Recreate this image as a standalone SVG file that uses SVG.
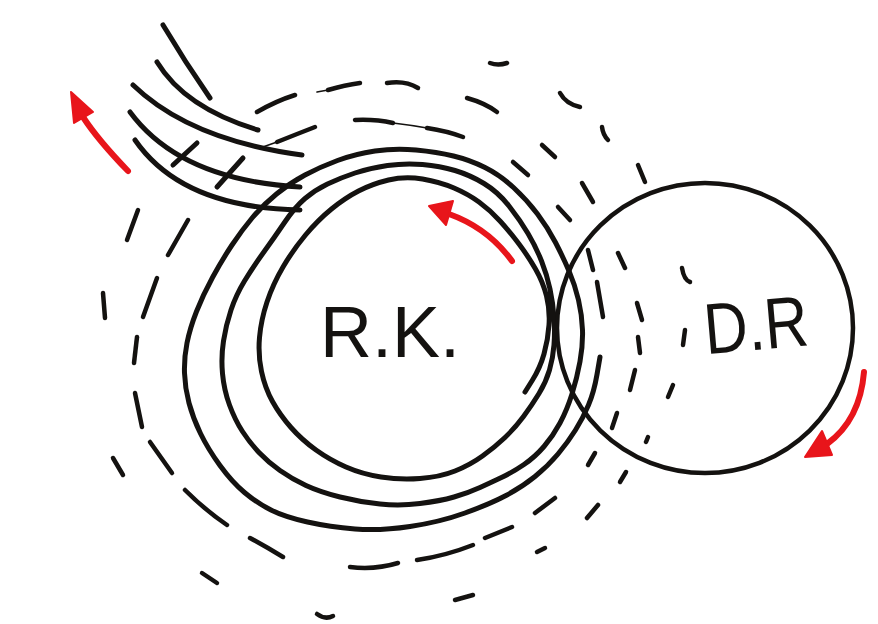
<svg xmlns="http://www.w3.org/2000/svg" width="878" height="624" viewBox="0 0 878 624">
<style>
.ink{fill:none;stroke:#141210;stroke-linecap:round;stroke-linejoin:round}
.ring{stroke-width:5}
.dash{stroke-width:4.5}
.thin{stroke-width:1.6}
.red{fill:none;stroke:#e8151b;stroke-width:6;stroke-linecap:round}
.redhead{fill:#e8151b;stroke:#e8151b;stroke-width:2;stroke-linejoin:round}
.lbl{font-family:"Liberation Sans",Arial,sans-serif;font-size:72px;fill:#141210}
</style>
<rect width="878" height="624" fill="#ffffff"/>

<g id="dashed-rings" class="ink dash">
<path d="M257,112 Q276,101 295,95"/>
<path class="thin" d="M317,92 L328,90"/>
<path d="M328,90 Q345,85 360,83"/>
<path d="M387,83 Q405,80 418,88"/>
<path d="M467,98 Q485,103 497,112"/>
<path d="M490,63 Q498,66 507,63"/>
<path d="M560,93 Q566,104 580,107"/>
<path d="M602,127 Q603,135 608,140"/>
<path d="M542,145 L555,157"/>
<path d="M513,162 L528,175"/>
<path d="M582,183 L593,202"/>
<path d="M558,207 L570,220"/>
<path d="M638,165 L645,182"/>
<path class="thin" d="M260,148 L277,142"/>
<path d="M277,142 Q297,134 315,127"/>
<path d="M355,120 Q375,119 393,123"/>
<path class="thin" d="M393,123 Q410,125 427,128"/>
<path d="M427,128 Q447,131 463,137"/>
<path d="M588,250 L593,270"/>
<path d="M618,253 L625,268"/>
<path d="M682,268 Q684,280 690,282"/>
<path d="M597,282 L603,317"/>
<path d="M637,303 L642,320"/>
<path d="M685,330 L683,345"/>
<path d="M638,337 L640,353"/>
<path d="M635,370 L630,390"/>
<path d="M673,385 L668,397"/>
<path d="M617,413 L612,428"/>
<path d="M648,437 L646,442"/>
<path d="M595,453 L588,465"/>
<path d="M626,472 L620,482"/>
<path d="M555,498 L535,513"/>
<path d="M598,505 L587,518"/>
<path d="M545,548 L537,552"/>
<path d="M512,527 L485,538"/>
<path d="M473,545 Q445,556 417,560"/>
<path d="M398,563 Q375,570 350,567"/>
<path d="M473,595 L455,600"/>
<path d="M317,614 Q325,620 333,616"/>
<path d="M283,557 Q265,546 250,538"/>
<path d="M217,583 L202,573"/>
<path d="M227,525 Q205,510 185,490"/>
<path d="M123,475 L113,458"/>
<path d="M172,473 L150,442"/>
<path d="M142,427 L135,393"/>
<path d="M134,363 L137,337"/>
<path d="M143,317 L157,278"/>
<path d="M103,293 L105,318"/>
<path d="M168,255 L188,220"/>
<path d="M127,240 L138,210"/>
</g>

<g id="bundle" class="ink ring">
<path d="M163,25 Q185,62 210,98"/>
<path d="M157,62 Q185,108 258,130"/>
<path d="M133,85 Q190,140 302,155"/>
<path d="M130,112 Q180,180 300,187"/>
<path d="M135,140 Q182,208 300,210"/>
<path d="M173,165 L197,143"/>
<path d="M217,187 L243,158"/>
</g>

<g id="rk">
<path class="ink ring" d="M525,392 L532.5,380 Q540,368 544,354 Q548,340 549,325 Q550,310 546.5,296 Q543,282 535.5,269 Q528,256 519,244 Q510,232 500,221 Q490,210 479,202 Q468,194 454,188 Q440,182 422.5,179 Q405,176 388.5,180 Q372,184 358.5,191 Q345,198 331.5,209 Q318,220 305.5,235 Q293,250 283,267 Q273,284 267,302 Q261,320 259.5,337.5 Q258,355 261.5,371.5 Q265,388 272.5,401.5 Q280,415 291,427.5 Q302,440 316,450 Q330,460 346,467 Q362,474 381,477 Q400,480 420,478.5 Q440,477 455,471 Q470,465 482.5,456 Q495,447 505,437.5 Q515,428 523.5,416.5 Q532,405 539,393.5 Q546,382 549.5,370 Q553,358 554,345 Q555,332 554,317.5 Q553,303 550,289 Q547,275 541.5,261 Q536,247 528,233.5 Q520,220 509,206 Q498,192 484,183.5 Q470,175 455,170.5 Q440,166 422.5,164.5 Q405,163 387.5,165.5 Q370,168 355,173 Q340,178 327.5,184 Q315,190 305,198.5 Q295,207 284.5,222.5 Q274,238 263.5,252.5 Q253,267 244.5,281 Q236,295 231,310 Q226,325 223.5,341 Q221,357 222.5,373.5 Q224,390 229.5,405 Q235,420 242.5,431.5 Q250,443 259,452.5 Q268,462 280,470.5 Q292,479 306,485.5 Q320,492 340,497 Q360,502 380,504 Q400,506 420,503.5 Q440,501 454,497 Q468,493 480,487.5 Q492,482 502.5,477 Q513,472 524,464.5 Q535,457 544,446.5 Q553,436 560,423 Q567,410 572,394 Q577,378 580,361.5 Q583,345 582.5,330 Q582,315 578.5,300 Q575,285 569,271 Q563,257 555.5,242.5 Q548,228 537.5,214 Q527,200 513.5,187.5 Q500,175 485,167.5 Q470,160 453.5,156 Q437,152 416,150 Q395,148 375,151 Q355,154 337.5,160.5 Q320,167 305,175 Q290,183 276.5,194 Q263,205 252.5,217.5 Q242,230 232,245 Q222,260 212.5,277.5 Q203,295 196.5,311.5 Q190,328 187,343 Q184,358 184.5,373 Q185,388 189,403 Q193,418 200.5,433.5 Q208,449 220,465.5 Q232,482 244.5,492.5 Q257,503 271,510 Q285,517 307.5,522 Q330,527 355,529 Q380,531 410,526.5 Q440,522 465,513 Q490,504 506,495.5 Q522,487 535,476.5 Q548,466 558,454 Q568,442 575.5,430 Q583,418 588.5,405 Q594,392 597,374.5 L600,357"/>
<text class="lbl" x="320" y="357">R.K.</text>
</g>

<g id="dr">
<ellipse class="ink" cx="705" cy="328" rx="148" ry="145" stroke-width="4.5"/>
<text class="lbl" x="704" y="350" textLength="104" lengthAdjust="spacingAndGlyphs" transform="rotate(-5 755 325)">D.R</text>
</g>

<g id="connectors">
<path class="red" d="M128,171 Q98,140 83,117"/>
<polygon class="redhead" points="71,92 74,123 93,112"/>
<path class="red" d="M512,261 Q488,228 449,214"/>
<polygon class="redhead" points="429,206 453,201 446,225"/>
<path class="red" d="M864,372 Q860,420 827,444"/>
<polygon class="redhead" points="805,457 822,431 832,455"/>
</g>
</svg>
